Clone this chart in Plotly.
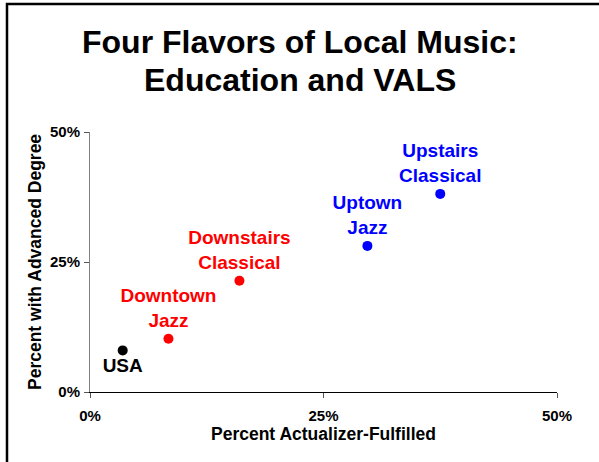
import plotly.graph_objects as go

names = ["USA", "Downtown<br>Jazz", "Downstairs<br>Classical", "Uptown<br>Jazz", "Upstairs<br>Classical"]
actualizer = [0.035, 0.084, 0.160, 0.297, 0.375]
advanced = [0.080, 0.1025, 0.214, 0.281, 0.381]
colors = ["#000000", "#FF0000", "#FF0000", "#0000FF", "#0000FF"]
positions = ["bottom center", "top center", "top center", "top center", "top center"]
tick_vals = [0, 0.25, 0.5]
tick_text = ["0%", "25%", "50%"]

FONT = "Liberation Sans, Arial, sans-serif"

fig = go.Figure()
fig.add_trace(go.Scatter(
    x=actualizer, y=advanced, mode="markers+text",
    text=names, textposition=positions,
    marker=dict(size=10, color=colors),
    textfont=dict(family=FONT, size=19, color=colors, weight="bold"),
    cliponaxis=False, hoverinfo="skip", showlegend=False,
))

W, H = 599, 462
L, R, T, B = 90, 42, 132, 70
pw, ph = W - L - R, H - T - B

fig.update_layout(
    width=W, height=H,
    margin=dict(l=L, r=R, t=T, b=B, pad=0),
    paper_bgcolor="white", plot_bgcolor="white",
    font=dict(family=FONT, color="black"),
    xaxis=dict(range=[0, 0.5], tickvals=tick_vals, ticktext=tick_text,
               showgrid=False, zeroline=False, showline=True, linecolor="black", linewidth=1,
               ticks="outside", ticklen=5, tickcolor="#555555", tickwidth=1,
               tickfont=dict(size=15, family=FONT, weight="bold"), ticklabelstandoff=5),
    yaxis=dict(range=[0, 0.5], tickvals=tick_vals, ticktext=tick_text,
               showgrid=False, zeroline=False, showline=True, linecolor="#808080", linewidth=1,
               ticks="outside", ticklen=5, tickcolor="#555555", tickwidth=1,
               tickfont=dict(size=15, family=FONT, weight="bold"), ticklabelstandoff=1),
)

def px_x(x):
    return (x - L) / pw

def px_y(y):
    return (H - B - y) / ph

annots = [
    dict(text="Four Flavors of Local Music:", x=px_x(299.5), xref="paper", xanchor="center",
         y=px_y(42), yref="paper", yanchor="middle", font=dict(size=32, weight="bold")),
    dict(text="Education and VALS", x=px_x(299.5), xref="paper", xanchor="center",
         y=px_y(80), yref="paper", yanchor="middle", font=dict(size=32, weight="bold")),
    dict(text="Percent Actualizer-Fulfilled", x=0.5, xref="paper", xanchor="center",
         y=px_y(434), yref="paper", yanchor="middle", font=dict(size=17.5, weight="bold")),
    dict(text="Percent with Advanced Degree", x=px_x(35), xref="paper", xanchor="center",
         y=0.5, yref="paper", yanchor="middle", textangle=-90, font=dict(size=17.5, weight="bold")),
]
for a in annots:
    a["showarrow"] = False
    a["font"]["family"] = FONT
    a["font"]["color"] = "black"
    fig.add_annotation(**a)

# Figure frame (top and left edges visible)
fig.add_shape(type="rect", xref="paper", yref="paper", layer="above",
              x0=px_x(7), x1=px_x(W + 10), y0=px_y(4), y1=px_y(H + 10),
              line=dict(color="black", width=2.5), fillcolor="rgba(0,0,0,0)")

fig.write_html("out.html", config={"displayModeBar": False},
               post_script="document.body.style.margin='0';document.body.style.overflow='hidden';")
